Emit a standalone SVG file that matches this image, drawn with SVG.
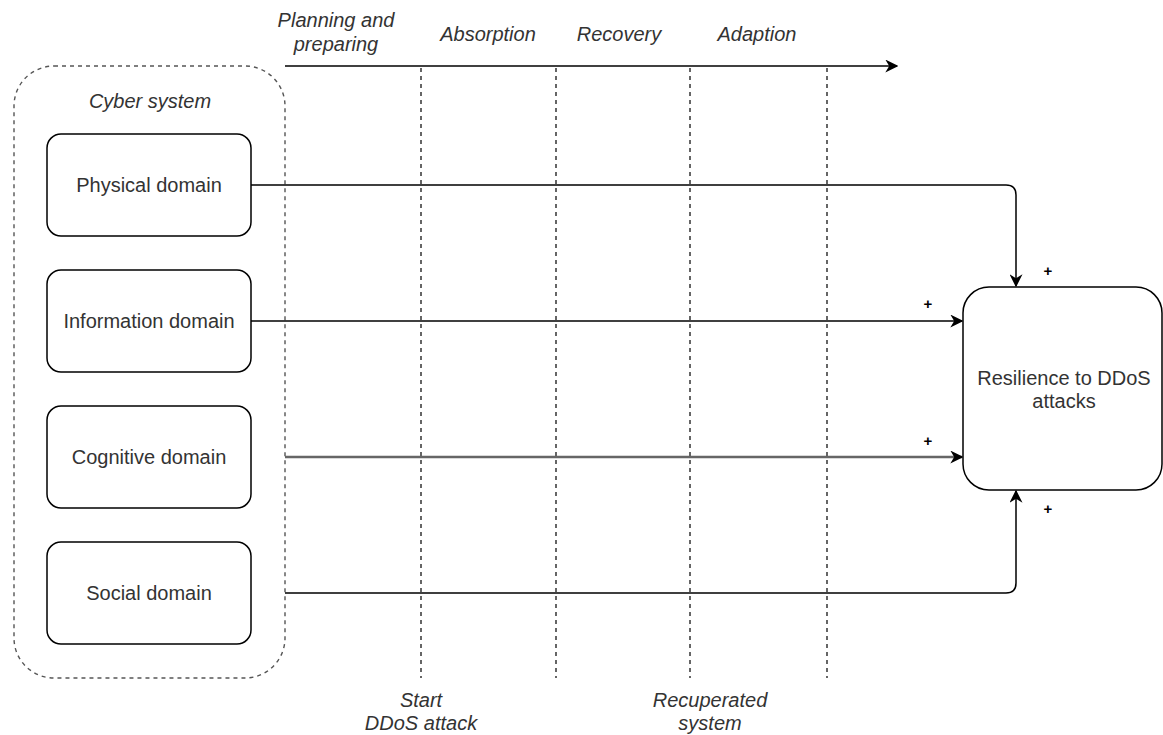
<svg xmlns="http://www.w3.org/2000/svg" width="1163" height="735" viewBox="0 0 1163 735">
<style>
text{font-family:"Liberation Sans",Arial,sans-serif;font-size:20px;fill:#333;text-anchor:middle}
.it{font-style:italic}
.box{fill:#fff;stroke:#000;stroke-width:1.5}
.vd{stroke:#000;stroke-width:1.2;stroke-dasharray:4 4;fill:none}
.ln{stroke:#000;stroke-width:1.5;fill:none}
.pl{font-size:15px;font-weight:bold;fill:#000}
</style>
<defs>
<marker id="ah" viewBox="0 0 10 10" refX="9" refY="5" markerWidth="13" markerHeight="13" markerUnits="userSpaceOnUse" orient="auto">
<path d="M0,0 L10,5 L0,10 L3,5 Z" fill="#000"/>
</marker>
</defs>
<g id="cyber-system">
<rect x="14" y="66" width="271" height="612" rx="40" fill="none" stroke="#555" stroke-width="1.4" stroke-dasharray="4 4"/>
<text x="150" y="108" class="it">Cyber system</text>
</g>
<g id="timeline">
<line x1="285" y1="66" x2="897" y2="66" class="ln" marker-end="url(#ah)"/>
<text x="336" y="27" class="it">Planning and</text>
<text x="336" y="51" class="it">preparing</text>
<text x="488" y="41" class="it">Absorption</text>
<text x="619" y="41" class="it">Recovery</text>
<text x="757" y="41" class="it">Adaption</text>
<line x1="421" y1="68" x2="421" y2="678" class="vd"/>
<line x1="556" y1="68" x2="556" y2="678" class="vd"/>
<line x1="690" y1="68" x2="690" y2="678" class="vd"/>
<line x1="827" y1="68" x2="827" y2="678" class="vd"/>
<text x="421" y="707" class="it">Start</text>
<text x="421" y="730" class="it">DDoS attack</text>
<text x="710" y="707" class="it">Recuperated</text>
<text x="710" y="730" class="it">system</text>
</g>
<g id="physical">
<rect x="47" y="134" width="204" height="102" rx="14" class="box"/>
<text x="149" y="192">Physical domain</text>
</g>
<g id="information">
<rect x="47" y="270" width="204" height="102" rx="14" class="box"/>
<text x="149" y="328">Information domain</text>
</g>
<g id="cognitive">
<rect x="47" y="406" width="204" height="102" rx="14" class="box"/>
<text x="149" y="464">Cognitive domain</text>
</g>
<g id="social">
<rect x="47" y="542" width="204" height="102" rx="14" class="box"/>
<text x="149" y="600">Social domain</text>
</g>
<g id="resilience">
<rect x="963" y="287" width="199" height="203" rx="26" class="box"/>
<text x="1064" y="385">Resilience to DDoS</text>
<text x="1064" y="408">attacks</text>
</g>
<g id="connectors">
<path d="M251,185 H1006 Q1016,185 1016,195 V286" class="ln" marker-end="url(#ah)"/>
<line x1="251" y1="321" x2="962" y2="321" class="ln" marker-end="url(#ah)"/>
<line x1="285" y1="457" x2="962" y2="457" stroke="#666" stroke-width="2.6" marker-end="url(#ah)"/>
<path d="M285,593 H1006 Q1016,593 1016,583 V491" class="ln" marker-end="url(#ah)"/>
<text x="1048" y="276" class="pl">+</text>
<text x="928" y="309" class="pl">+</text>
<text x="928" y="446" class="pl">+</text>
<text x="1048" y="514" class="pl">+</text>
</g>
</svg>
